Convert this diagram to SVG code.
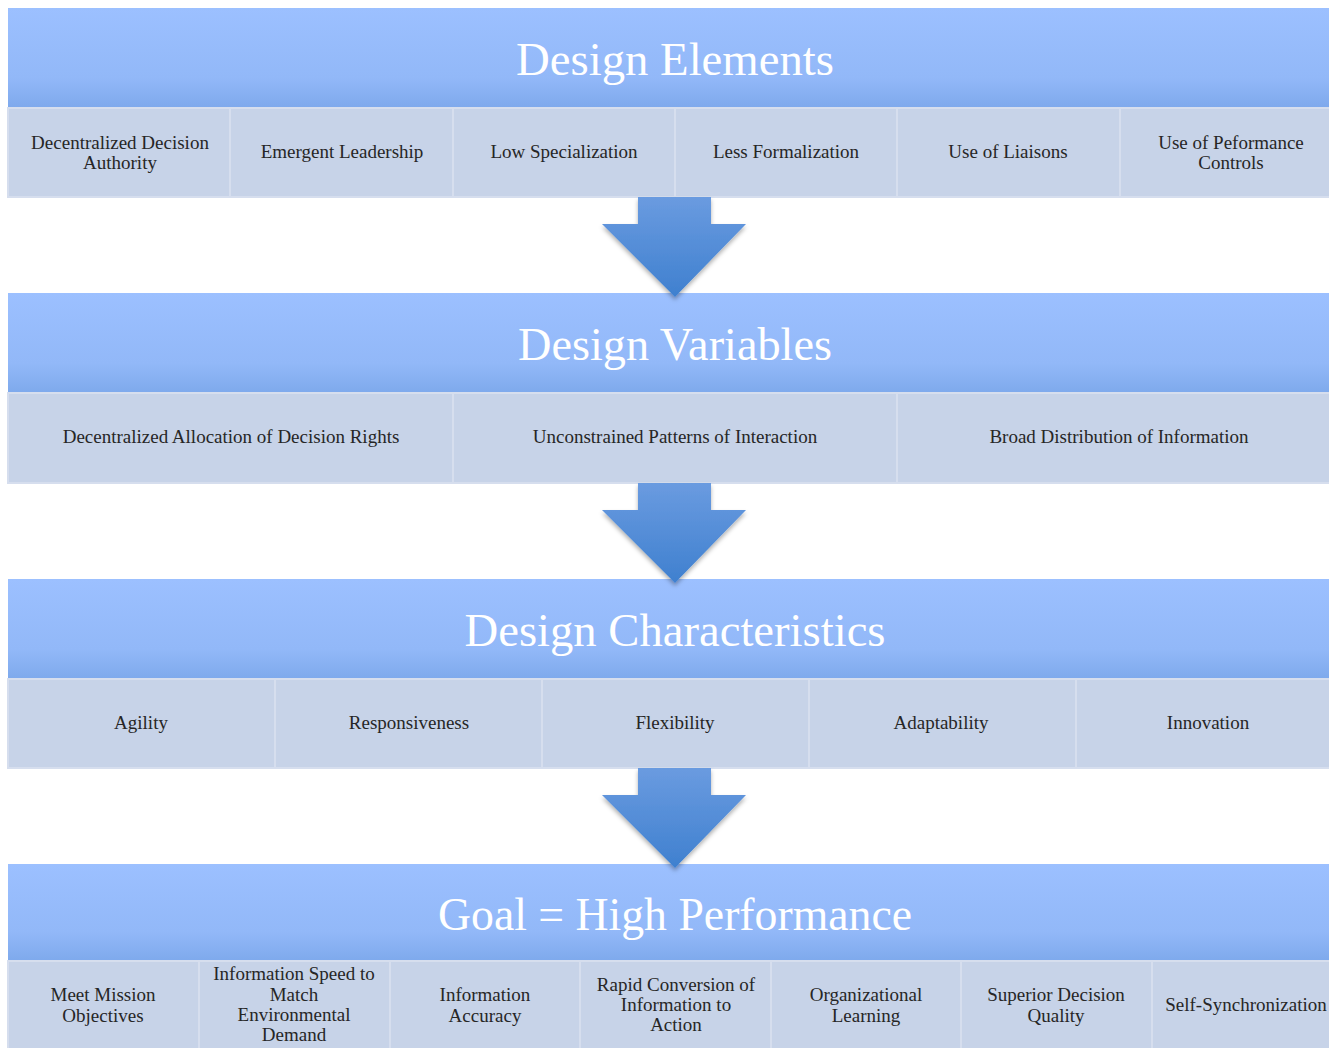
<svg xmlns="http://www.w3.org/2000/svg" width="1329" height="1048" viewBox="0 0 1329 1048">
<defs>
<linearGradient id="hdr" x1="0" y1="0" x2="0" y2="1">
<stop offset="0" stop-color="#9cc0ff"/>
<stop offset="0.7" stop-color="#92b8f8"/>
<stop offset="1" stop-color="#7ea9ec"/>
</linearGradient>
<linearGradient id="arr" x1="0" y1="0" x2="0" y2="1">
<stop offset="0" stop-color="#6a9be0"/>
<stop offset="1" stop-color="#3f80cf"/>
</linearGradient>
<filter id="sh" x="-20%" y="-20%" width="140%" height="150%">
<feDropShadow dx="0" dy="3" stdDeviation="2" flood-color="#000" flood-opacity="0.3"/>
</filter>
<style>
.hdr{fill:url(#hdr)}
.cell{fill:#c7d3e8;stroke:#d6deee;stroke-width:2}
.ht{font-family:"Liberation Serif","DejaVu Serif",serif;font-size:46px;fill:#ffffff;text-anchor:middle}
.ct{font-family:"Liberation Serif","DejaVu Serif",serif;font-size:19px;fill:#262626;text-anchor:middle}
.arrow{fill:url(#arr);filter:url(#sh)}
</style>
</defs>
<rect width="1329" height="1048" fill="#ffffff"/>

<g id="band-elements">
<rect class="hdr" x="8" y="8" width="1335" height="100"/>
<text class="ht" x="675" y="75" textLength="318" lengthAdjust="spacingAndGlyphs">Design Elements</text>
</g>
<g id="el-1"><rect class="cell" x="8" y="108" width="222" height="89"/><text class="ct" x="120" y="149">Decentralized Decision</text><text class="ct" x="120" y="169">Authority</text></g>
<g id="el-2"><rect class="cell" x="230" y="108" width="223" height="89"/><text class="ct" x="342" y="158">Emergent Leadership</text></g>
<g id="el-3"><rect class="cell" x="453" y="108" width="222" height="89"/><text class="ct" x="564" y="158">Low Specialization</text></g>
<g id="el-4"><rect class="cell" x="675" y="108" width="222" height="89"/><text class="ct" x="786" y="158">Less Formalization</text></g>
<g id="el-5"><rect class="cell" x="897" y="108" width="223" height="89"/><text class="ct" x="1008" y="158">Use of Liaisons</text></g>
<g id="el-6"><rect class="cell" x="1120" y="108" width="223" height="89"/><text class="ct" x="1231" y="149">Use of Peformance</text><text class="ct" x="1231" y="169">Controls</text></g>

<g id="band-variables">
<rect class="hdr" x="8" y="293" width="1335" height="100"/>
<text class="ht" x="675" y="360" textLength="314" lengthAdjust="spacingAndGlyphs">Design Variables</text>
</g>
<g id="var-1"><rect class="cell" x="8" y="393" width="445" height="90"/><text class="ct" x="231" y="443">Decentralized Allocation of Decision Rights</text></g>
<g id="var-2"><rect class="cell" x="453" y="393" width="444" height="90"/><text class="ct" x="675" y="443">Unconstrained Patterns of Interaction</text></g>
<g id="var-3"><rect class="cell" x="897" y="393" width="446" height="90"/><text class="ct" x="1119" y="443">Broad Distribution of Information</text></g>

<g id="band-characteristics">
<rect class="hdr" x="8" y="579" width="1335" height="100"/>
<text class="ht" x="675" y="646" textLength="421" lengthAdjust="spacingAndGlyphs">Design Characteristics</text>
</g>
<g id="ch-1"><rect class="cell" x="8" y="679" width="267" height="89"/><text class="ct" x="141" y="729">Agility</text></g>
<g id="ch-2"><rect class="cell" x="275" y="679" width="267" height="89"/><text class="ct" x="409" y="729">Responsiveness</text></g>
<g id="ch-3"><rect class="cell" x="542" y="679" width="267" height="89"/><text class="ct" x="675" y="729">Flexibility</text></g>
<g id="ch-4"><rect class="cell" x="809" y="679" width="267" height="89"/><text class="ct" x="941" y="729">Adaptability</text></g>
<g id="ch-5"><rect class="cell" x="1076" y="679" width="267" height="89"/><text class="ct" x="1208" y="729">Innovation</text></g>

<g id="band-goal">
<rect class="hdr" x="8" y="864" width="1335" height="97"/>
<text class="ht" x="675" y="930" textLength="474" lengthAdjust="spacingAndGlyphs">Goal = High Performance</text>
</g>
<g id="g-1"><rect class="cell" x="8" y="961" width="191" height="92"/><text class="ct" x="103" y="1001">Meet Mission</text><text class="ct" x="103" y="1022">Objectives</text></g>
<g id="g-2"><rect class="cell" x="199" y="961" width="191" height="92"/><text class="ct" x="294" y="980">Information Speed to</text><text class="ct" x="294" y="1001">Match</text><text class="ct" x="294" y="1021">Environmental</text><text class="ct" x="294" y="1041">Demand</text></g>
<g id="g-3"><rect class="cell" x="390" y="961" width="190" height="92"/><text class="ct" x="485" y="1001">Information</text><text class="ct" x="485" y="1022">Accuracy</text></g>
<g id="g-4"><rect class="cell" x="580" y="961" width="191" height="92"/><text class="ct" x="676" y="991">Rapid Conversion of</text><text class="ct" x="676" y="1011">Information to</text><text class="ct" x="676" y="1031">Action</text></g>
<g id="g-5"><rect class="cell" x="771" y="961" width="190" height="92"/><text class="ct" x="866" y="1001">Organizational</text><text class="ct" x="866" y="1022">Learning</text></g>
<g id="g-6"><rect class="cell" x="961" y="961" width="191" height="92"/><text class="ct" x="1056" y="1001">Superior Decision</text><text class="ct" x="1056" y="1022">Quality</text></g>
<g id="g-7"><rect class="cell" x="1152" y="961" width="191" height="92"/><text class="ct" x="1246" y="1011">Self-Synchronization</text></g>

<g id="connectors">
<polygon class="arrow" points="638,197 711,197 711,224 746,224 675,297 602,224 638,224"/>
<polygon class="arrow" points="638,483 711,483 711,510 746,510 675,583 602,510 638,510"/>
<polygon class="arrow" points="638,768 711,768 711,795 746,795 675,868 602,795 638,795"/>
</g>
</svg>
